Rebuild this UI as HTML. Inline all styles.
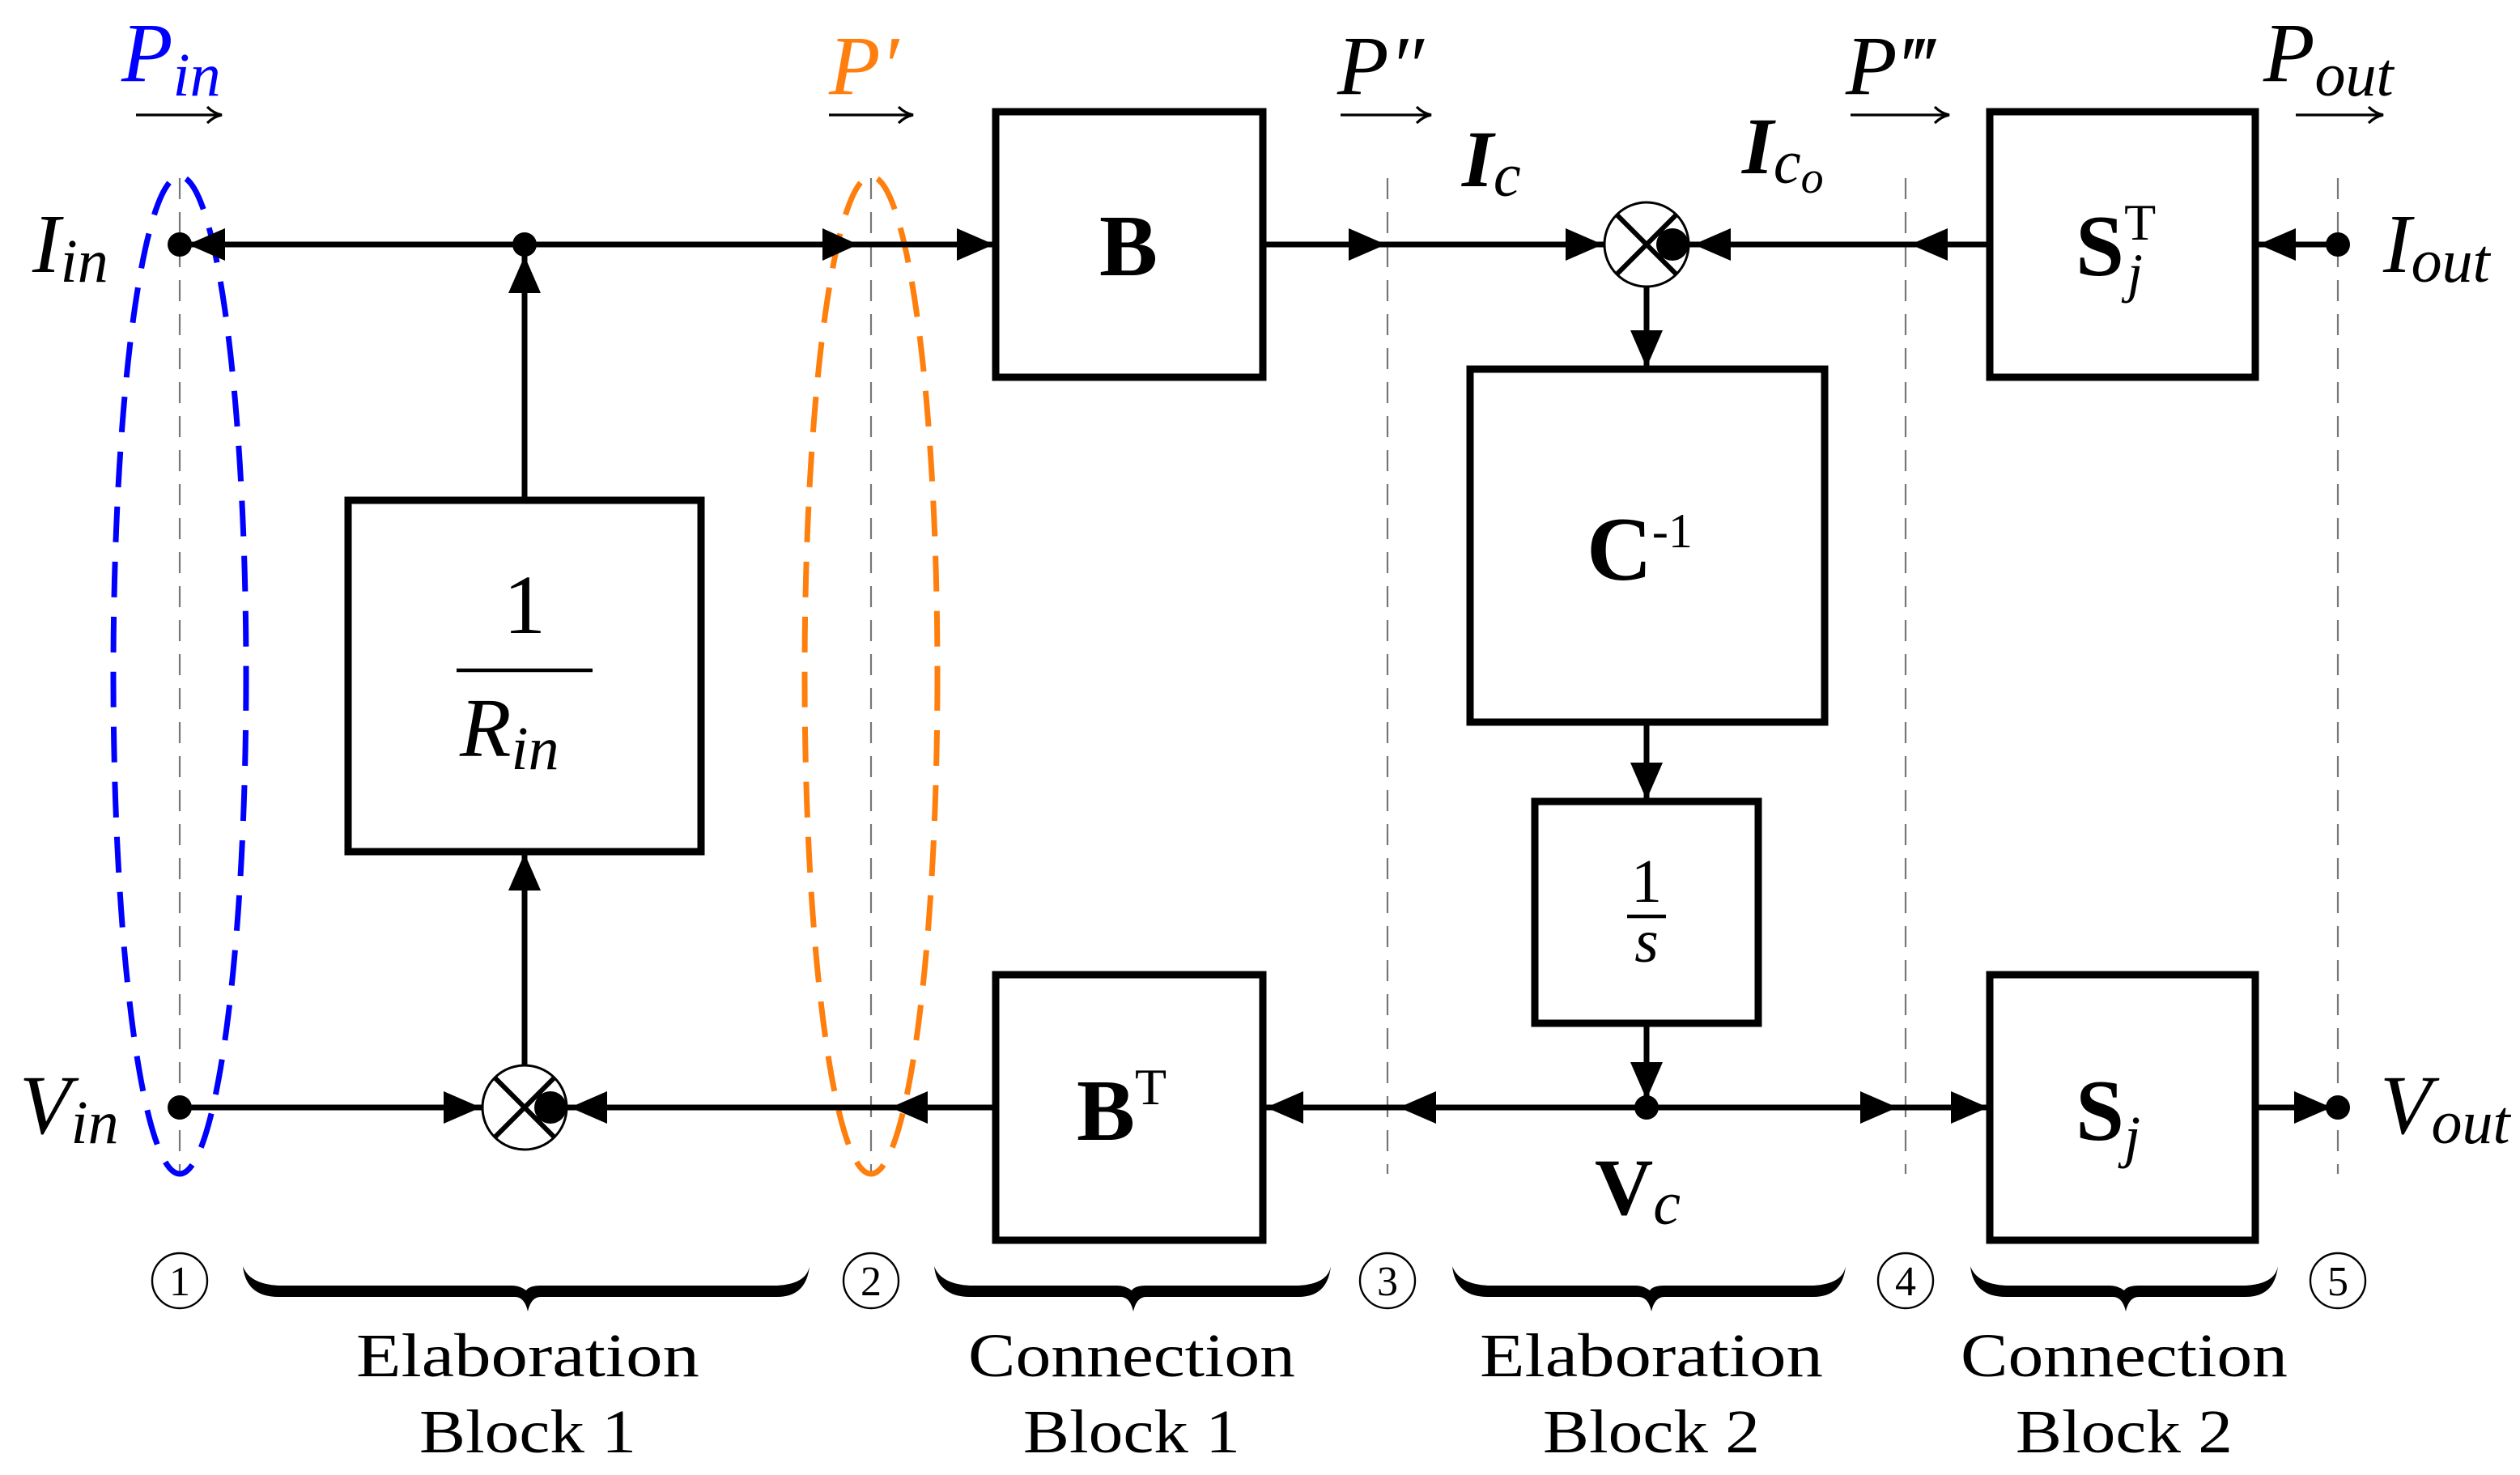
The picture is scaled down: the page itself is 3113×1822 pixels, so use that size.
<!DOCTYPE html>
<html><head><meta charset="utf-8"><style>
html,body{margin:0;padding:0;background:#fff;}
svg{display:block;}
text{font-family:"Liberation Serif",serif;}
.it{font-style:italic;}
.b{font-weight:bold;}
</style></head><body>
<svg width="3113" height="1822" viewBox="0 0 1556.5 911" xmlns="http://www.w3.org/2000/svg">
<rect x="0" y="0" width="1556.5" height="911" fill="#fff"/>
<!-- dashed verticals -->
<g stroke="#777" stroke-width="1.1" stroke-dasharray="13 8" fill="none">
<line x1="111" y1="110" x2="111" y2="725"/>
<line x1="538" y1="110" x2="538" y2="725"/>
<line x1="857" y1="110" x2="857" y2="725"/>
<line x1="1177" y1="110" x2="1177" y2="725"/>
<line x1="1444" y1="110" x2="1444" y2="725"/>
</g>
<!-- ellipses -->
<ellipse cx="111" cy="417" rx="41" ry="308" fill="none" stroke="#0000ff" stroke-width="3.5" stroke-dasharray="22 12"/>
<ellipse cx="538" cy="417" rx="41" ry="308" fill="none" stroke="#ff7f0e" stroke-width="3.5" stroke-dasharray="22 12"/>
<!-- connector lines -->
<g stroke="#000" stroke-width="3.5" fill="none">
<line x1="111" y1="151" x2="615" y2="151"/>
<line x1="324" y1="151" x2="324" y2="309"/>
<line x1="324" y1="526" x2="324" y2="658"/>
<line x1="780" y1="151" x2="991" y2="151"/>
<line x1="1043" y1="151" x2="1229" y2="151"/>
<line x1="1393" y1="151" x2="1444" y2="151"/>
<line x1="1017" y1="177" x2="1017" y2="228"/>
<line x1="1017" y1="446" x2="1017" y2="495"/>
<line x1="1017" y1="632" x2="1017" y2="684"/>
<line x1="111" y1="684" x2="298" y2="684"/>
<line x1="350" y1="684" x2="615" y2="684"/>
<line x1="780" y1="684" x2="1229" y2="684"/>
<line x1="1393" y1="684" x2="1444" y2="684"/>
</g>
<!-- boxes -->
<g stroke="#000" stroke-width="4.5" fill="#fff">
<rect x="615" y="69" width="165" height="164"/>
<rect x="615" y="602" width="165" height="164"/>
<rect x="215" y="309" width="218" height="217"/>
<rect x="908" y="228" width="219" height="218"/>
<rect x="948" y="495" width="138" height="137"/>
<rect x="1229" y="69" width="164" height="164"/>
<rect x="1229" y="602" width="164" height="164"/>
</g>
<!-- summing junctions -->
<g stroke="#000" fill="#fff">
<circle cx="324" cy="684" r="26" stroke-width="1.5"/>
<circle cx="1017" cy="151" r="26" stroke-width="1.5"/>
</g>
<g stroke="#000" stroke-width="3">
<line x1="306" y1="666" x2="342" y2="702"/><line x1="306" y1="702" x2="342" y2="666"/>
<line x1="999" y1="133" x2="1035" y2="169"/><line x1="999" y1="169" x2="1035" y2="133"/>
</g>
<g fill="#000">
<circle cx="340" cy="684" r="10"/>
<circle cx="1033" cy="151" r="10"/>
<circle cx="111" cy="151" r="7.5"/>
<circle cx="111" cy="684" r="7.5"/>
<circle cx="324" cy="151" r="7.5"/>
<circle cx="1017" cy="684" r="7.5"/>
<circle cx="1444" cy="151" r="7.5"/>
<circle cx="1444" cy="684" r="7.5"/>
<polygon points="116,151 139,141 139,161"/>
<polygon points="530,151 508,141 508,161"/>
<polygon points="614,151 591,141 591,161"/>
<polygon points="324,158 314,181 334,181"/>
<polygon points="856,151 833,141 833,161"/>
<polygon points="990,151 967,141 967,161"/>
<polygon points="1180,151 1203,141 1203,161"/>
<polygon points="1046,151 1069,141 1069,161"/>
<polygon points="1395,151 1418,141 1418,161"/>
<polygon points="1017,227 1007,204 1027,204"/>
<polygon points="1017,494 1007,471 1027,471"/>
<polygon points="1017,679 1007,656 1027,656"/>
<polygon points="324,527 314,550 334,550"/>
<polygon points="297,684 274,674 274,694"/>
<polygon points="352,684 375,674 375,694"/>
<polygon points="550,684 573,674 573,694"/>
<polygon points="782,684 805,674 805,694"/>
<polygon points="864,684 887,674 887,694"/>
<polygon points="1172,684 1149,674 1149,694"/>
<polygon points="1228,684 1205,674 1205,694"/>
<polygon points="1440,684 1417,674 1417,694"/>
</g>
<!-- P arrows -->
<g stroke="#000" stroke-width="1.6" fill="none">
<line x1="84" y1="71" x2="136" y2="71"/><path d="M128,66 Q132,70 137,71 Q132,72 128,76"/>
<line x1="512" y1="71" x2="563" y2="71"/><path d="M555,66 Q559,70 564,71 Q559,72 555,76"/>
<line x1="828" y1="71" x2="883" y2="71"/><path d="M875,66 Q879,70 884,71 Q879,72 875,76"/>
<line x1="1143" y1="71" x2="1203" y2="71"/><path d="M1195,66 Q1199,70 1204,71 Q1199,72 1195,76"/>
<line x1="1418" y1="71" x2="1471" y2="71"/><path d="M1463,66 Q1467,70 1472,71 Q1467,72 1463,76"/>
</g>
<!-- P labels -->
<text x="75" y="50" class="it" font-size="52" fill="#0000ff">P<tspan font-size="38" dy="9">in</tspan></text>
<text x="512" y="58" class="it" font-size="52" fill="#ff7f0e">P′</text>
<text x="826" y="58" class="it" font-size="52">P″</text>
<text x="1140" y="58" class="it" font-size="52">P‴</text>
<text x="1398" y="50" class="it" font-size="52">P<tspan font-size="38" dy="9">out</tspan></text>
<!-- side labels -->
<text x="20" y="168" class="it" font-size="52">I<tspan font-size="38" dy="6">in</tspan></text>
<text x="12" y="700" class="it" font-size="52">V<tspan font-size="38" dy="6">in</tspan></text>
<text x="1472" y="168" class="it" font-size="52">I<tspan font-size="38" dy="6">out</tspan></text>
<text x="1470" y="700" class="it" font-size="52">V<tspan font-size="38" dy="6">out</tspan></text>
<!-- I_c labels -->
<text x="903" y="115" class="it b" font-size="50">I<tspan font-size="38" font-weight="normal" dy="6">c</tspan></text>
<text x="1076" y="107" class="it b" font-size="50">I<tspan font-size="38" font-weight="normal" dy="6">c</tspan><tspan font-size="28" font-weight="normal" dy="6">o</tspan></text>
<text x="985" y="750" class="b" font-size="50">V<tspan class="it" font-size="38" font-weight="normal" dy="6">c</tspan></text>
<!-- box labels -->
<text x="697" y="170" class="b" font-size="54" text-anchor="middle">B</text>
<text x="665" y="704" class="b" font-size="54">B<tspan font-size="32" font-weight="normal" dy="-22">T</tspan></text>
<text x="1282" y="170" class="b" font-size="54">S<tspan font-size="32" font-weight="normal" dy="-22">T</tspan></text>
<text x="1314" y="180" class="it" font-size="34">j</text>
<text x="1282" y="704" class="b" font-size="54">S<tspan class="it" font-size="36" font-weight="normal" dy="10">j</tspan></text>
<text x="980" y="358" class="b" font-size="56">C<tspan font-size="30" font-weight="normal" dy="-20">-1</tspan></text>
<text x="324" y="391" font-size="52" text-anchor="middle">1</text>
<line x1="282" y1="414" x2="366" y2="414" stroke="#000" stroke-width="2.2"/>
<text x="284" y="467" class="it" font-size="52">R<tspan font-size="38" dy="8">in</tspan></text>
<text x="1017" y="557" font-size="38" text-anchor="middle">1</text>
<line x1="1005" y1="566" x2="1029" y2="566" stroke="#000" stroke-width="2.2"/>
<text x="1017" y="594" class="it" font-size="38" text-anchor="middle">s</text>
<!-- circled numbers -->
<g fill="none" stroke="#000" stroke-width="1.2">
<circle cx="111" cy="791" r="17"/><circle cx="538" cy="791" r="17"/><circle cx="857" cy="791" r="17"/><circle cx="1177" cy="791" r="17"/><circle cx="1444" cy="791" r="17"/>
</g>
<g font-size="26" text-anchor="middle">
<text x="111" y="800">1</text><text x="538" y="800">2</text><text x="857" y="800">3</text><text x="1177" y="800">4</text><text x="1444" y="800">5</text>
</g>
<!-- braces -->
<g fill="#000">
<path d="M150,782 Q152,801 172,801 L318,801 Q324,801 326,810 Q328,801 334,801 L480,801 Q498,801 500,782 Q498,793 480,794 L334,794 Q327,794 325,797 Q321,794 316,794 L172,794 Q154,793 150,782Z"/>
<path d="M577,782 Q579,801 599,801 L692,801 Q698,801 700,810 Q702,801 708,801 L802,801 Q820,801 822,782 Q820,793 802,794 L708,794 Q701,794 699,797 Q695,794 690,794 L599,794 Q581,793 577,782Z"/>
<path d="M897,782 Q899,801 919,801 L1012,801 Q1018,801 1020,810 Q1022,801 1028,801 L1120,801 Q1138,801 1140,782 Q1138,793 1120,794 L1028,794 Q1021,794 1019,797 Q1015,794 1010,794 L919,794 Q901,793 897,782Z"/>
<path d="M1217,782 Q1219,801 1239,801 L1305,801 Q1311,801 1313,810 Q1315,801 1321,801 L1387,801 Q1405,801 1407,782 Q1405,793 1387,794 L1321,794 Q1314,794 1312,797 Q1308,794 1303,794 L1239,794 Q1221,793 1217,782Z"/>
</g>
<!-- block labels -->
<g font-size="38" text-anchor="middle">
<text x="326" y="850" textLength="212" lengthAdjust="spacingAndGlyphs">Elaboration</text>
<text x="326" y="897" textLength="134" lengthAdjust="spacingAndGlyphs">Block 1</text>
<text x="699" y="850" textLength="202" lengthAdjust="spacingAndGlyphs">Connection</text>
<text x="699" y="897" textLength="134" lengthAdjust="spacingAndGlyphs">Block 1</text>
<text x="1020" y="850" textLength="212" lengthAdjust="spacingAndGlyphs">Elaboration</text>
<text x="1020" y="897" textLength="134" lengthAdjust="spacingAndGlyphs">Block 2</text>
<text x="1312" y="850" textLength="202" lengthAdjust="spacingAndGlyphs">Connection</text>
<text x="1312" y="897" textLength="134" lengthAdjust="spacingAndGlyphs">Block 2</text>
</g>
</svg>
</body></html>
